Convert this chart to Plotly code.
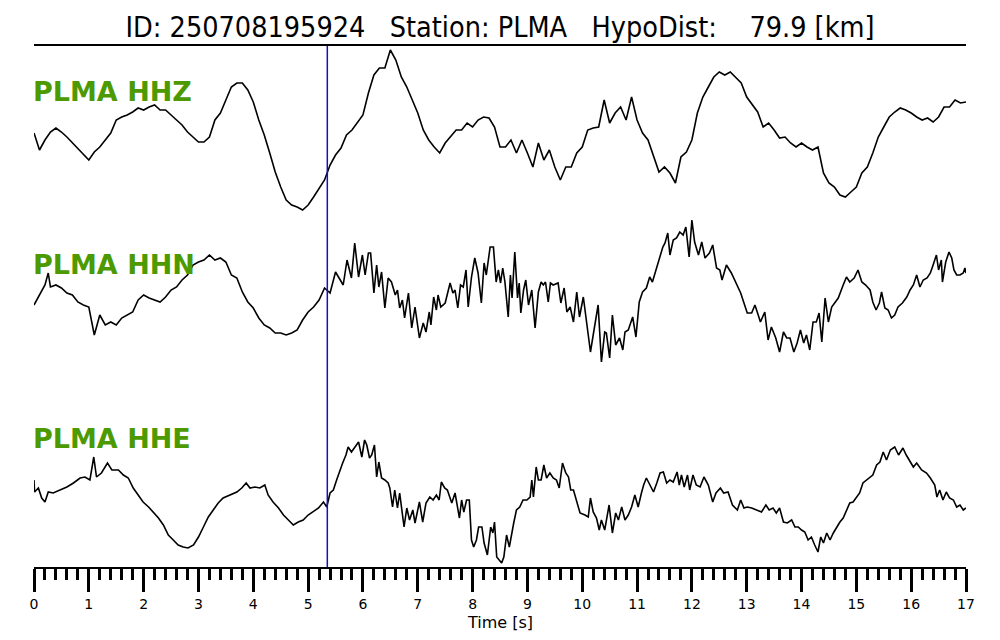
import plotly.graph_objects as go

# ---------------- data ----------------
title_text = "ID: 250708195924   Station: PLMA   HypoDist:    79.9 [km]"
x_title = "Time [s]"
channel_labels = ["PLMA HHZ", "PLMA HHN", "PLMA HHE"]
pick_time = 5.35  # blue marker [s]
x_ticks = list(range(0, 18))

# HHZ sampled every 0.1 s from 0 to 17 s (relative amplitude, up positive)
hhz_t = [round(i * 0.1, 1) for i in range(171)]
hhz_amp = [
    -3, -20, -10, -2, 2, -2, -7, -13, -18, -25,
    -30, -22, -17, -10, -3, 10, 13, 15, 18, 22,
    20, 23, 25, 20, 20, 15, 10, 5, -2, -7,
    -12, -12, -7, 10, 17, 30, 43, 47, 47, 40,
    28, 10, -5, -23, -42, -57, -70, -75, -77, -80,
    -75, -67, -58, -50, -35, -25, -18, -5, 0, 7,
    15, 37, 55, 62, 62, 80, 70, 53, 43, 30,
    17, 0, -10, -17, -23, -13, -7, 0, 0, 7,
    3, 10, 13, 12, 3, -17, -17, -10, -23, -10,
    -23, -37, -13, -30, -20, -37, -50, -37, -37, -23,
    -17, 0, 2, 3, 30, 7, 17, 23, 10, 33,
    10, -3, -10, -25, -42, -37, -43, -53, -27, -22,
    -10, 17, 33, 43, 53, 58, 55, 58, 52, 47,
    33, 25, 18, 3, 7, 0, -8, -7, -13, -17,
    -13, -17, -20, -17, -43, -53, -57, -65, -67, -62,
    -57, -43, -37, -23, -7, 3, 13, 18, 22, 20,
    17, 13, 10, 12, 8, 13, 23, 23, 30, 27,
    28,
]

# HHN (time [s], relative amplitude)
hhn_t = [
    0.0, 0.1, 0.2, 0.26, 0.3, 0.4, 0.5, 0.6, 0.7, 0.8, 0.9,
    1.0, 1.1, 1.2, 1.3, 1.4, 1.5, 1.6, 1.7, 1.8, 1.9,
    2.0, 2.1, 2.2, 2.3, 2.4, 2.5, 2.6, 2.7, 2.8, 2.9,
    3.0, 3.1, 3.2, 3.3, 3.4, 3.5, 3.6, 3.7, 3.8, 3.9,
    4.0, 4.1, 4.2, 4.3, 4.4, 4.5, 4.6, 4.7, 4.8, 4.9,
    5.0, 5.1, 5.2, 5.3, 5.4, 5.5,
    5.64, 5.71, 5.79, 5.85, 5.92, 5.99, 6.04, 6.10, 6.14, 6.20,
    6.25, 6.29, 6.34, 6.40, 6.46, 6.52, 6.59, 6.63, 6.67, 6.72,
    6.76, 6.83, 6.89, 6.95, 7.03, 7.10, 7.15, 7.21, 7.24, 7.29,
    7.34, 7.37, 7.42, 7.50, 7.59, 7.64, 7.68, 7.73, 7.78, 7.83,
    7.88, 7.92, 7.98, 8.04, 8.10, 8.16, 8.21, 8.25, 8.32, 8.38,
    8.43, 8.47, 8.51, 8.55, 8.59, 8.65, 8.69, 8.72, 8.77, 8.82,
    8.85, 8.88, 8.93, 8.97, 9.02, 9.08, 9.14, 9.20, 9.25, 9.29,
    9.33, 9.38, 9.42, 9.47, 9.56, 9.61, 9.67, 9.72, 9.78, 9.84,
    9.90, 9.95, 10.02, 10.08, 10.11, 10.15, 10.20, 10.29, 10.35, 10.41,
    10.44, 10.50, 10.55, 10.61, 10.68, 10.74, 10.78, 10.84, 10.92, 10.98,
    11.04, 11.10, 11.17, 11.23, 11.28, 11.36, 11.42, 11.47, 11.51, 11.56,
    11.60, 11.66, 11.72, 11.78, 11.84, 11.89, 11.95, 12.00, 12.05, 12.12,
    12.18, 12.24, 12.32, 12.38, 12.45, 12.51, 12.55, 12.63, 12.72, 12.81,
    12.89, 12.95, 13.01, 13.09, 13.15, 13.21, 13.25, 13.33, 13.39, 13.45,
    13.53, 13.60, 13.67, 13.73, 13.79, 13.86, 13.92, 13.98, 14.04, 14.09,
    14.15, 14.21, 14.27, 14.32, 14.37, 14.43, 14.49, 14.55, 14.61, 14.67,
    14.76, 14.82, 14.88, 14.96, 15.03, 15.10, 15.17, 15.25, 15.30, 15.36,
    15.42, 15.46, 15.52, 15.58, 15.64, 15.70, 15.76, 15.84, 15.92, 15.98,
    16.04, 16.10, 16.16, 16.22, 16.29, 16.35, 16.40, 16.46, 16.50, 16.55,
    16.57, 16.63, 16.69, 16.74, 16.78, 16.83, 16.89, 16.95, 16.98, 17.00,
]
hhn_amp = [
    -15, -5, 5, 17, 3, 5, 2, -3, -5, -12, -15,
    -17, -45, -25, -35, -32, -35, -28, -25, -22, -10,
    -5, -8, -10, -12, -7, 0, 3, 10, 15, 25,
    28, 30, 35, 30, 32, 28, 15, 12, -2, -12,
    -18, -28, -35, -38, -43, -43, -45, -43, -40, -30,
    -22, -17, -10, 2, -3, 18,
    5, 30, 12, 47, 13, 35, 15, 37, 37, -3,
    25, 3, 18, -18, 12, 8, -5, 0, -18, -10,
    -28, -3, -38, -17, -48, -33, -42, -22, -35, -7,
    -20, -5, -17, -13, 7, -3, 0, -18, 5, 3,
    20, -17, 13, 32, 17, -13, 27, 15, 43, 43,
    8, 20, 7, 22, 8, -27, 15, -8, 38, -8,
    7, -23, 0, 10, -15, 0, -38, -2, 8, 5,
    8, -12, 7, 5, 7, -13, 2, -22, -17, -32,
    -2, -27, -7, -32, -48, -62, -45, -15, -72, -42,
    -43, -68, -25, -55, -48, -60, -42, -40, -27, -47,
    -12, -2, 2, 13, 8, 22, 32, 43, 47, 57,
    35, 50, 52, 58, 55, 63, 33, 70, 48, 35,
    48, 32, 37, 45, 22, 20, 10, 25, 17, 7,
    -3, -13, -23, -23, -15, -25, -32, -22, -50, -37,
    -48, -62, -42, -48, -48, -62, -53, -40, -53, -45,
    -60, -32, -32, -23, -52, -8, -32, -17, -12, -8,
    5, 13, 8, 12, 20, 8, 5, 0, -12, -20,
    -13, -2, -18, -20, -28, -25, -17, -13, -7, 0,
    5, 15, 3, 10, 12, 17, 25, 35, 20, 30,
    8, 28, 38, 32, 20, 15, 15, 17, 22, 17,
]

# HHE (time [s], relative amplitude)
hhe_t = [
    0.00, 0.01, 0.08, 0.14, 0.20, 0.26, 0.35, 0.47, 0.60, 0.72,
    0.84, 0.93, 1.02, 1.09, 1.14, 1.23, 1.34, 1.42, 1.54, 1.63,
    1.72, 1.81, 1.90, 1.99, 2.09, 2.18, 2.27, 2.36, 2.45, 2.54,
    2.63, 2.72, 2.81, 2.91, 3.00, 3.09, 3.18, 3.27, 3.36, 3.45,
    3.57, 3.70, 3.79, 3.87, 3.94, 4.03, 4.12, 4.21, 4.27, 4.36,
    4.46, 4.55, 4.64, 4.73, 4.82, 4.91, 5.00, 5.09, 5.19, 5.28,
    5.34, 5.40, 5.46, 5.52, 5.58, 5.63, 5.69, 5.73, 5.79, 5.85,
    5.92, 5.98, 6.03, 6.07, 6.12, 6.16, 6.21, 6.25, 6.29, 6.34,
    6.40, 6.46, 6.49, 6.54, 6.58, 6.63, 6.67, 6.75, 6.80, 6.85,
    6.91, 6.95, 7.03, 7.09, 7.15, 7.22, 7.28, 7.34, 7.39, 7.43,
    7.49, 7.54, 7.62, 7.68, 7.76, 7.80, 7.84, 7.89, 7.94, 7.98,
    8.02, 8.07, 8.11, 8.17, 8.21, 8.27, 8.33, 8.37, 8.40, 8.44,
    8.49, 8.53, 8.57, 8.62, 8.67, 8.71, 8.75, 8.80, 8.86, 8.92,
    8.99, 9.05, 9.08, 9.11, 9.16, 9.20, 9.25, 9.30, 9.35, 9.41,
    9.47, 9.53, 9.58, 9.64, 9.70, 9.75, 9.79, 9.84, 9.90, 9.96,
    10.05, 10.11, 10.15, 10.20, 10.26, 10.31, 10.35, 10.41, 10.49, 10.55,
    10.61, 10.66, 10.72, 10.78, 10.84, 10.90, 10.96, 11.02, 11.08, 11.12,
    11.17, 11.23, 11.30, 11.36, 11.42, 11.48, 11.54, 11.60, 11.66, 11.73,
    11.77, 11.81, 11.86, 11.92, 11.96, 12.02, 12.08, 12.15, 12.22, 12.30,
    12.38, 12.44, 12.52, 12.58, 12.66, 12.74, 12.83, 12.89, 12.95, 13.01,
    13.09, 13.18, 13.27, 13.35, 13.41, 13.48, 13.54, 13.60, 13.67, 13.74,
    13.82, 13.88, 13.94, 14.00, 14.06, 14.12, 14.18, 14.24, 14.30, 14.35,
    14.40, 14.46, 14.52, 14.58, 14.64, 14.70, 14.76, 14.82, 14.88, 14.94,
    15.00, 15.06, 15.12, 15.22, 15.30, 15.37, 15.43, 15.49, 15.55, 15.62,
    15.70, 15.77, 15.85, 15.91, 15.97, 16.04, 16.10, 16.19, 16.28, 16.35,
    16.43, 16.47, 16.52, 16.58, 16.64, 16.70, 16.77, 16.83, 16.89, 16.95,
    17.00,
]
hhe_amp = [
    20, 8, 12, 2, -2, 8, 7, 10, 13, 17,
    22, 23, 20, 43, 23, 27, 37, 30, 30, 25,
    22, 12, 5, -2, -7, -12, -18, -25, -35, -40,
    -45, -47, -48, -45, -37, -27, -17, -10, -3, 2,
    5, 8, 12, 17, 12, 13, 12, 15, 5, -2,
    -8, -15, -20, -25, -22, -20, -15, -12, -8, -2,
    -7, 7, 10, 20, 30, 37, 45, 53, 48, 53,
    58, 43, 60, 55, 42, 45, 55, 23, 38, 22,
    20, 17, 12, -7, 10, -8, 7, -27, -8, -20,
    -10, -23, -2, -22, -3, 3, 0, 5, 0, 18,
    12, 10, -3, 7, -18, 0, -12, 0, 0, -40,
    -47, -40, -27, -27, -43, -55, -27, -33, -22, -57,
    -60, -63, -57, -35, -47, -33, -23, -10, -7, 0,
    0, 3, 20, 3, 33, 20, 20, 35, 22, 27,
    22, 20, 12, 37, 27, 23, 10, 10, -2, -13,
    -15, -17, 2, -12, -18, -30, -20, -30, -5, -33,
    -13, -20, -7, -20, -15, -7, 5, -7, 7, 15,
    22, 15, 8, 17, 27, 28, 17, 20, 18, 28,
    15, 25, 13, 25, 10, 25, 15, 13, 23, 15,
    -2, 7, 12, 7, 8, -5, -10, 0, -8, -7,
    -8, -10, -12, -5, -10, -8, -13, -8, -22, -23,
    -20, -27, -27, -30, -32, -40, -37, -45, -52, -37,
    -43, -33, -40, -33, -27, -22, -18, -10, -3, -2,
    3, 7, 17, 22, 25, 35, 38, 48, 40, 50,
    53, 45, 52, 45, 40, 33, 37, 30, 27, 22,
    15, 3, 10, 0, 8, 2, 0, -7, -5, -10,
    -8,
]

# ---------------- figure ----------------
# one shared vertical axis; each channel is drawn around its own baseline
offsets = [-130, -290, -500]
label_levels = [-91, -264, -438]
series = [(hhz_t, hhz_amp), (hhn_t, hhn_amp), (hhe_t, hhe_amp)]

fig = go.Figure()
for (t, a), off in zip(series, offsets):
    fig.add_trace(go.Scatter(
        x=t, y=[off + v for v in a], mode="lines",
        line=dict(color="black", width=1.6), hoverinfo="skip", showlegend=False,
    ))

fig.add_shape(type="line", xref="x", yref="paper", x0=pick_time, x1=pick_time,
              y0=0, y1=1, line=dict(color="#1010d0", width=1.5))

for lab, lev in zip(channel_labels, label_levels):
    fig.add_annotation(x=0, y=lev, xref="x", yref="y", text=lab, showarrow=False,
                       xanchor="left", yanchor="middle", xshift=-3,
                       font=dict(family="DejaVu Sans", size=27, color="#4c9a00",
                                 weight="bold"))

# x-axis title placed just under the tick labels
fig.add_annotation(x=0.5, y=-45 / 521, xref="paper", yref="paper", text=x_title,
                   showarrow=False, xanchor="center", yanchor="top",
                   borderpad=0,
                   font=dict(family="DejaVu Sans", size=16, color="black"))

# the page body has an 8 px margin, so the figure is 992x632 placed at (8, 8)
fig.update_layout(
    width=992, height=632,
    margin=dict(l=26, r=34, t=38, b=73),
    paper_bgcolor="white", plot_bgcolor="white",
    title=dict(text=title_text.replace(" ", "\u00a0"), x=(500 - 8) / 992,
               xanchor="center", y=1 - 19 / 632, yref="container",
               yanchor="middle",
               font=dict(family="DejaVu Sans Condensed, DejaVu Sans", size=28.5,
                         color="black")),
    xaxis=dict(
        range=[0, 17], tickvals=x_ticks, ticktext=[str(v) for v in x_ticks],
        showgrid=False, zeroline=False,
        showline=True, linecolor="black", linewidth=2, mirror=True,
        ticks="outside", ticklen=23, tickwidth=2.5, tickcolor="black",
        tickfont=dict(family="DejaVu Sans", size=14, color="black"),
        minor=dict(dtick=0.2, tick0=0, ticks="outside", ticklen=11,
                   tickwidth=2.5, tickcolor="black", showgrid=False),
    ),
    yaxis=dict(range=[-567, -46], visible=False, showgrid=False, zeroline=False),
)

fig.write_html("out.html")
